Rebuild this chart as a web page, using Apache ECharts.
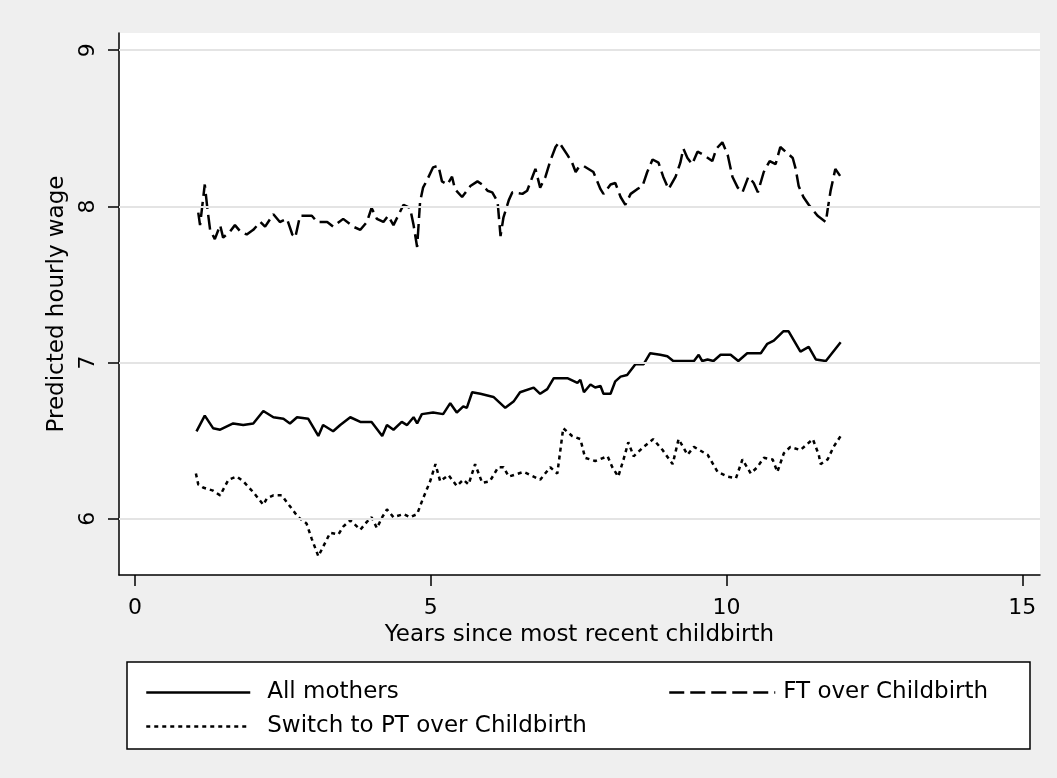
<!DOCTYPE html>
<html>
<head>
<meta charset="utf-8">
<script src="https://cdn.jsdelivr.net/npm/echarts@6/dist/echarts.min.js"></script>
<style>html,body{margin:0;padding:0;background:#efefef;}#c{width:1057px;height:778px;}</style>
</head>
<body>
<div id="c"></div>
<script>
// Years since most recent childbirth (x) and predicted hourly wage (y)
const allX = [1.04,1.18,1.32,1.44,1.66,1.83,2.0,2.17,2.34,2.51,2.62,2.74,2.93,3.10,3.18,3.35,3.47,3.64,3.81,4.0,4.18,4.26,4.37,4.51,4.6,4.71,4.77,4.85,5.04,5.21,5.33,5.44,5.55,5.61,5.70,5.84,6.06,6.26,6.40,6.51,6.74,6.85,6.97,7.08,7.31,7.48,7.53,7.59,7.70,7.78,7.87,7.92,8.04,8.12,8.21,8.32,8.46,8.60,8.71,8.88,9.0,9.10,9.22,9.45,9.53,9.59,9.68,9.78,9.90,10.07,10.20,10.35,10.58,10.69,10.80,10.96,11.05,11.25,11.39,11.51,11.68,11.93];
const allY = [6.56,6.66,6.58,6.57,6.61,6.60,6.61,6.69,6.65,6.64,6.61,6.65,6.64,6.53,6.60,6.56,6.60,6.65,6.62,6.62,6.53,6.60,6.57,6.62,6.60,6.65,6.61,6.67,6.68,6.67,6.74,6.68,6.72,6.71,6.81,6.80,6.78,6.71,6.75,6.81,6.84,6.80,6.83,6.90,6.90,6.87,6.89,6.81,6.86,6.84,6.85,6.80,6.80,6.88,6.91,6.92,6.99,6.99,7.06,7.05,7.04,7.01,7.01,7.01,7.05,7.01,7.02,7.01,7.05,7.05,7.01,7.06,7.06,7.12,7.14,7.20,7.20,7.07,7.10,7.02,7.01,7.13];

const ftX = [1.07,1.10,1.18,1.22,1.27,1.35,1.44,1.49,1.61,1.69,1.78,1.89,2.0,2.12,2.20,2.34,2.45,2.57,2.66,2.71,2.79,2.99,3.08,3.25,3.35,3.52,3.69,3.81,3.92,4.0,4.09,4.20,4.28,4.37,4.54,4.65,4.71,4.77,4.82,4.87,4.94,5.04,5.13,5.19,5.28,5.36,5.41,5.53,5.67,5.79,5.87,5.96,6.04,6.13,6.18,6.23,6.32,6.38,6.55,6.63,6.72,6.77,6.85,6.94,7.02,7.11,7.17,7.31,7.39,7.45,7.50,7.58,7.75,7.87,7.92,8.04,8.12,8.21,8.29,8.38,8.49,8.58,8.66,8.75,8.85,8.93,9.02,9.14,9.22,9.27,9.34,9.42,9.51,9.61,9.76,9.83,9.93,10.02,10.10,10.19,10.27,10.37,10.46,10.53,10.63,10.73,10.83,10.91,11.0,11.12,11.17,11.22,11.30,11.39,11.54,11.68,11.71,11.76,11.84,11.93];
const ftY = [7.96,7.88,8.14,8.00,7.85,7.79,7.88,7.80,7.84,7.88,7.84,7.82,7.85,7.90,7.87,7.95,7.90,7.92,7.82,7.80,7.94,7.94,7.90,7.90,7.87,7.92,7.87,7.85,7.90,7.99,7.92,7.90,7.94,7.88,8.01,7.99,7.88,7.74,8.03,8.12,8.17,8.25,8.26,8.16,8.14,8.19,8.11,8.06,8.13,8.16,8.14,8.10,8.09,8.03,7.81,7.93,8.04,8.09,8.08,8.10,8.19,8.24,8.12,8.19,8.29,8.38,8.41,8.33,8.28,8.22,8.25,8.26,8.22,8.11,8.08,8.14,8.15,8.06,8.01,8.08,8.11,8.13,8.22,8.30,8.28,8.19,8.11,8.19,8.28,8.37,8.31,8.27,8.35,8.33,8.29,8.37,8.41,8.33,8.19,8.12,8.09,8.19,8.15,8.09,8.22,8.29,8.27,8.38,8.35,8.31,8.24,8.13,8.06,8.01,7.94,7.90,7.98,8.10,8.24,8.19];

const ptX = [1.03,1.07,1.15,1.32,1.44,1.58,1.72,1.83,2.0,2.17,2.23,2.34,2.48,2.62,2.76,2.90,2.99,3.10,3.18,3.30,3.44,3.52,3.64,3.81,3.92,4.0,4.09,4.18,4.26,4.37,4.54,4.65,4.77,4.87,4.99,5.08,5.16,5.30,5.44,5.55,5.64,5.75,5.87,6.0,6.14,6.23,6.32,6.57,6.85,7.02,7.14,7.24,7.39,7.53,7.61,7.78,7.99,8.07,8.17,8.26,8.34,8.43,8.60,8.76,8.92,9.09,9.19,9.34,9.45,9.68,9.85,10.02,10.16,10.27,10.41,10.52,10.63,10.78,10.86,10.97,11.08,11.25,11.46,11.56,11.59,11.71,11.81,11.93];
const ptY = [6.29,6.22,6.20,6.18,6.15,6.25,6.27,6.24,6.17,6.09,6.13,6.15,6.15,6.08,6.01,5.97,5.87,5.76,5.82,5.91,5.90,5.95,5.99,5.93,5.98,6.01,5.94,6.01,6.06,6.01,6.03,6.01,6.03,6.13,6.24,6.35,6.24,6.28,6.21,6.25,6.22,6.35,6.23,6.24,6.33,6.33,6.27,6.30,6.25,6.33,6.29,6.58,6.53,6.51,6.39,6.37,6.40,6.33,6.27,6.38,6.49,6.40,6.46,6.51,6.44,6.35,6.51,6.41,6.46,6.41,6.30,6.27,6.26,6.38,6.29,6.33,6.39,6.38,6.30,6.42,6.46,6.44,6.51,6.41,6.35,6.38,6.46,6.53];

const xTicks = [0, 5, 10, 15];
const yTicks = [6, 7, 8, 9];
const names = ['All mothers', 'FT over Childbirth', 'Switch to PT over Childbirth'];

const zip = (xs, ys) => xs.map((x, i) => [x, ys[i]]);
const FONT = 'DejaVu Sans';

const chart = echarts.init(document.getElementById('c'));
chart.setOption({
  backgroundColor: '#efefef',
  animation: false,
  grid: { left: 119, right: 17, top: 33, bottom: 203, show: true, backgroundColor: '#ffffff', borderWidth: 0 },
  xAxis: {
    type: 'value', min: -0.27, max: 15.3,
    name: 'Years since most recent childbirth', nameLocation: 'middle', nameGap: 46,
    nameTextStyle: { fontFamily: FONT, fontSize: 23, color: '#000' },
    axisLine: { show: true, onZero: false, lineStyle: { color: '#000', width: 1.5 } },
    axisTick: { show: true, length: 11, lineStyle: { color: '#000', width: 1.5 }, customValues: xTicks },
    axisLabel: { customValues: xTicks, fontFamily: FONT, fontSize: 22, color: '#000', margin: 22 },
    splitLine: { show: false }
  },
  yAxis: {
    type: 'value', min: 5.64, max: 9.11,
    name: 'Predicted hourly wage', nameLocation: 'middle', nameGap: 50,
    nameTextStyle: { fontFamily: FONT, fontSize: 23, color: '#000' },
    axisLine: { show: true, onZero: false, lineStyle: { color: '#000', width: 1.5 } },
    axisTick: { show: true, length: 11, lineStyle: { color: '#000', width: 1.5 }, customValues: yTicks },
    axisLabel: { customValues: yTicks, rotate: 90, fontFamily: FONT, fontSize: 22, color: '#000', margin: 20 },
    splitLine: { show: false }
  },
  legend: [
    { data: [names[0], names[2]], orient: 'vertical', left: 140, top: 676, itemWidth: 104, itemHeight: 23, itemGap: 11,
      itemStyle: { opacity: 0 }, lineStyle: { width: 2.5 },
      textStyle: { fontFamily: FONT, fontSize: 23, color: '#000', padding: [0, 0, 0, 12] }, selectedMode: false },
    { data: [names[1]], orient: 'vertical', left: 663, top: 676, itemWidth: 106, itemHeight: 23,
      itemStyle: { opacity: 0 }, lineStyle: { width: 2.5 },
      textStyle: { fontFamily: FONT, fontSize: 23, color: '#000', padding: [0, 0, 0, 3] }, selectedMode: false }
  ],
  graphic: [{
    type: 'rect', z: 1, silent: true,
    shape: { x: 127, y: 662, width: 903, height: 87 },
    style: { fill: '#ffffff', stroke: '#000000', lineWidth: 1.5 }
  }],
  series: [
    { name: 'grid', type: 'line', data: [], z: 1, silent: true,
      markLine: { silent: true, symbol: 'none', label: { show: false },
        lineStyle: { color: '#e4e4e4', width: 2, type: 'solid' },
        data: yTicks.map(v => ({ yAxis: v })) } },
    { name: names[0], type: 'line', data: zip(allX, allY), symbol: 'none', z: 3,
      lineStyle: { color: '#000', width: 2.5, type: 'solid' }, itemStyle: { color: '#000' } },
    { name: names[1], type: 'line', data: zip(ftX, ftY), symbol: 'none', z: 3,
      lineStyle: { color: '#000', width: 2.5, type: [15, 6] }, itemStyle: { color: '#000' } },
    { name: names[2], type: 'line', data: zip(ptX, ptY), symbol: 'none', z: 3,
      lineStyle: { color: '#000', width: 2.5, type: [4, 4] }, itemStyle: { color: '#000' } }
  ]
});
</script>
</body>
</html>
